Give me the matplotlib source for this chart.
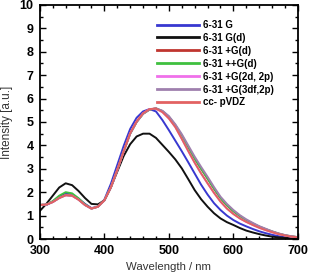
import numpy as np
import matplotlib
matplotlib.use('Agg')
import matplotlib.pyplot as plt
from matplotlib.ticker import MultipleLocator

plt.rcParams['font.family'] = ['Liberation Sans', 'DejaVu Sans']

# Wavelength grid (nm)
wl = list(range(300, 701, 10))

# Values
g631 = [1.45, 1.45, 1.60, 1.82, 1.95, 1.90, 1.72, 1.50, 1.32, 1.38,
        1.68, 2.35, 3.16, 3.98, 4.70, 5.18, 5.45, 5.55, 5.45, 5.08,
        4.65, 4.20, 3.75, 3.28, 2.80, 2.32, 1.90, 1.53, 1.24, 1.00,
        0.81, 0.66, 0.54, 0.43, 0.33, 0.25, 0.18, 0.12, 0.08, 0.05, 0.03]
g631_d = [1.20, 1.50, 1.85, 2.20, 2.38, 2.30, 2.05, 1.75, 1.50, 1.48,
          1.65, 2.20, 2.88, 3.55, 4.05, 4.38, 4.50, 4.50, 4.32, 4.02,
          3.72, 3.40, 3.02, 2.56, 2.09, 1.70, 1.38, 1.10, 0.88, 0.72,
          0.60, 0.47, 0.36, 0.28, 0.21, 0.15, 0.10, 0.07, 0.05, 0.03, 0.02]
pg_d = [1.45, 1.47, 1.58, 1.76, 1.88, 1.86, 1.69, 1.46, 1.30, 1.38,
        1.65, 2.20, 2.95, 3.75, 4.50, 5.00, 5.35, 5.53, 5.58, 5.46,
        5.22, 4.86, 4.42, 3.92, 3.43, 3.00, 2.58, 2.15, 1.75, 1.44,
        1.19, 0.98, 0.80, 0.66, 0.53, 0.42, 0.32, 0.23, 0.16, 0.11, 0.08]
ppg_d = [1.45, 1.47, 1.62, 1.85, 2.00, 1.95, 1.74, 1.48, 1.30, 1.38,
         1.65, 2.20, 2.95, 3.75, 4.50, 5.00, 5.35, 5.53, 5.58, 5.46,
         5.22, 4.86, 4.42, 3.92, 3.43, 3.00, 2.58, 2.15, 1.75, 1.44,
         1.19, 0.98, 0.80, 0.66, 0.53, 0.42, 0.32, 0.23, 0.16, 0.11, 0.08]
pg_2d2p = [1.45, 1.47, 1.58, 1.75, 1.87, 1.85, 1.68, 1.45, 1.30, 1.38,
           1.65, 2.20, 2.95, 3.75, 4.52, 5.02, 5.37, 5.55, 5.57, 5.42,
           5.15, 4.78, 4.28, 3.76, 3.26, 2.80, 2.38, 1.97, 1.60, 1.30,
           1.07, 0.88, 0.73, 0.60, 0.48, 0.38, 0.29, 0.21, 0.15, 0.10, 0.07]
pg_3df2p = [1.45, 1.47, 1.58, 1.75, 1.87, 1.85, 1.68, 1.45, 1.30, 1.38,
            1.65, 2.20, 2.95, 3.75, 4.50, 5.00, 5.35, 5.53, 5.58, 5.48,
            5.25, 4.90, 4.48, 4.00, 3.52, 3.08, 2.66, 2.22, 1.81, 1.50,
            1.24, 1.02, 0.84, 0.69, 0.55, 0.44, 0.33, 0.24, 0.17, 0.12, 0.08]
cc_pvdz = [1.45, 1.47, 1.58, 1.75, 1.87, 1.85, 1.68, 1.45, 1.30, 1.38,
           1.65, 2.20, 2.95, 3.75, 4.52, 5.02, 5.37, 5.55, 5.57, 5.42,
           5.15, 4.78, 4.28, 3.76, 3.26, 2.80, 2.38, 1.97, 1.60, 1.30,
           1.07, 0.88, 0.73, 0.60, 0.48, 0.38, 0.29, 0.21, 0.15, 0.10, 0.07]

labels = ['6-31 G', '6-31 G(d)', '6-31 +G(d)', '6-31 ++G(d)',
          '6-31 +G(2d, 2p)', '6-31 +G(3df,2p)', 'cc- pVDZ']
series = [g631, g631_d, pg_d, ppg_d, pg_2d2p, pg_3df2p, cc_pvdz]
colors = ['#3838d0', '#111111', '#c0352f', '#3fc03f', '#f070ea', '#9f80ae', '#e26262']

fig = plt.figure(figsize=(3.09, 2.73), dpi=100)
ax = fig.add_axes([0.129, 0.1245, 0.835, 0.8575])

for y, lab, c in zip(series, labels, colors):
    ax.plot(wl, y, color=c, lw=1.4, label=lab)

ax.set_xlim(300, 700)
ax.set_ylim(0, 10)
ax.xaxis.set_major_locator(MultipleLocator(100))
ax.xaxis.set_minor_locator(MultipleLocator(20))
ax.yaxis.set_major_locator(MultipleLocator(1))
ax.yaxis.set_minor_locator(MultipleLocator(0.5))
ax.tick_params(which='both', direction='in', top=True, right=True, width=1)
ax.tick_params(which='major', length=4, labelsize=9)
ax.tick_params(axis='x', which='major', pad=4)
ax.tick_params(axis='y', which='major', pad=4.5)
ax.tick_params(which='minor', length=2)
for lbl in ax.get_xticklabels() + ax.get_yticklabels():
    lbl.set_fontweight('bold')
for s in ax.spines.values():
    s.set_linewidth(1.3)

ax.set_xlabel('Wavelength / nm', fontsize=8.2, color='#333333', labelpad=4)
ax.set_ylabel('Intensity [a.u.]', fontsize=8.5, color='#333333', labelpad=5)

leg = ax.legend(loc='upper left', bbox_to_anchor=(0.507, 0.927),
                bbox_transform=fig.transFigure, frameon=False,
                prop={'size': 7, 'weight': 'bold'}, handlelength=4.4,
                handletextpad=0.35, labelspacing=0.3, borderpad=0,
                borderaxespad=0)
for line in leg.get_lines():
    line.set_linewidth(2)

fig.savefig('out.png', dpi=100)
